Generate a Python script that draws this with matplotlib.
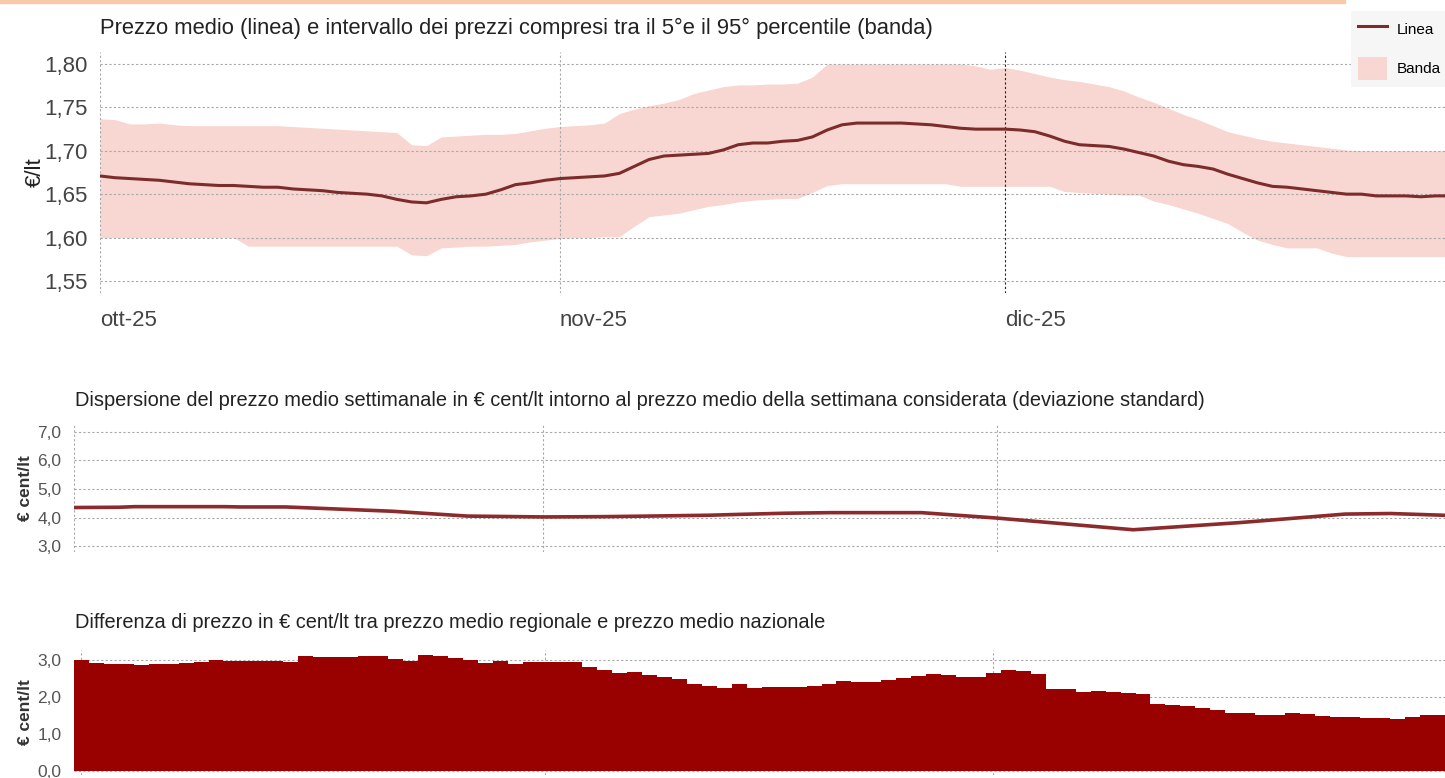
import matplotlib.pyplot as plt
import matplotlib.ticker as mticker
from matplotlib.patches import Rectangle, Patch
from matplotlib.lines import Line2D
import numpy as np
import pandas as pd

plt.rcParams['font.family'] = ['Liberation Sans', 'DejaVu Sans']

days = pd.date_range('2025-10-01', '2025-12-31', freq='D')
month_starts = pd.to_datetime(['2025-10-01', '2025-11-01', '2025-12-01'])
month_labels = ['ott-25', 'nov-25', 'dic-25']

# prezzo medio giornaliero (€/lt)
price_mean = [
    1.671, 1.669, 1.668, 1.667, 1.666, 1.664, 1.662, 1.661, 1.660, 1.660,
    1.659, 1.658, 1.658, 1.656, 1.655, 1.654, 1.652, 1.651, 1.650, 1.648,
    1.644, 1.641, 1.640, 1.644, 1.647, 1.648, 1.650, 1.655, 1.661, 1.663,
    1.666, 1.668, 1.669, 1.670, 1.671, 1.674, 1.682, 1.690, 1.694, 1.695,
    1.696, 1.697, 1.701, 1.707, 1.709, 1.709, 1.711, 1.712, 1.716, 1.724,
    1.730, 1.732, 1.732, 1.732, 1.732, 1.731, 1.730, 1.728, 1.726, 1.725,
    1.725, 1.725, 1.724, 1.722, 1.717, 1.711, 1.707, 1.706, 1.705, 1.702,
    1.698, 1.694, 1.688, 1.684, 1.682, 1.679, 1.673, 1.668, 1.663, 1.659,
    1.658, 1.656, 1.654, 1.652, 1.650, 1.650, 1.648, 1.648, 1.648, 1.647,
    1.648, 1.648,
]
# 95° percentile
price_p95 = [
    1.737, 1.736, 1.731, 1.731, 1.732, 1.730, 1.729, 1.729, 1.729, 1.729,
    1.729, 1.729, 1.729, 1.728, 1.727, 1.726, 1.725, 1.724, 1.723, 1.722,
    1.721, 1.707, 1.706, 1.716, 1.717, 1.718, 1.719, 1.719, 1.720, 1.723,
    1.726, 1.728, 1.729, 1.730, 1.732, 1.743, 1.748, 1.752, 1.755, 1.759,
    1.766, 1.770, 1.774, 1.776, 1.776, 1.777, 1.777, 1.778, 1.785, 1.800,
    1.800, 1.800, 1.800, 1.800, 1.800, 1.800, 1.800, 1.800, 1.800, 1.798,
    1.794, 1.796, 1.793, 1.789, 1.785, 1.782, 1.780, 1.777, 1.774, 1.769,
    1.762, 1.756, 1.749, 1.742, 1.736, 1.729, 1.722, 1.718, 1.714, 1.711,
    1.709, 1.707, 1.705, 1.703, 1.701, 1.700, 1.700, 1.700, 1.700, 1.700,
    1.700, 1.700,
]
# 5° percentile
price_p05 = [
    1.600, 1.600, 1.600, 1.600, 1.600, 1.600, 1.600, 1.600, 1.600, 1.600,
    1.590, 1.590, 1.590, 1.590, 1.590, 1.590, 1.590, 1.590, 1.590, 1.590,
    1.590, 1.580, 1.579, 1.588, 1.589, 1.590, 1.590, 1.591, 1.592, 1.595,
    1.597, 1.599, 1.600, 1.600, 1.601, 1.601, 1.613, 1.624, 1.626, 1.628,
    1.632, 1.636, 1.638, 1.641, 1.643, 1.644, 1.645, 1.645, 1.652, 1.660,
    1.662, 1.662, 1.662, 1.662, 1.662, 1.662, 1.662, 1.662, 1.659, 1.659,
    1.659, 1.659, 1.659, 1.659, 1.659, 1.653, 1.652, 1.651, 1.650, 1.649,
    1.649, 1.642, 1.638, 1.633, 1.628, 1.622, 1.616, 1.606, 1.597, 1.592,
    1.588, 1.588, 1.588, 1.582, 1.578, 1.578, 1.578, 1.578, 1.578, 1.578,
    1.578, 1.578,
]

# deviazione standard (€ cent/lt)
disp_dates = pd.to_datetime([
    '2025-10-01', '2025-10-04', '2025-10-05', '2025-10-11', '2025-10-12',
    '2025-10-15', '2025-10-22', '2025-10-27', '2025-11-01', '2025-11-05',
    '2025-11-08', '2025-11-12', '2025-11-14', '2025-11-17', '2025-11-20',
    '2025-11-26', '2025-12-01', '2025-12-10', '2025-12-17', '2025-12-24',
    '2025-12-27', '2025-12-31',
])
disp_values = [
    4.35, 4.36, 4.38, 4.38, 4.37, 4.37, 4.22, 4.05, 4.02, 4.03,
    4.05, 4.08, 4.11, 4.15, 4.17, 4.17, 3.98, 3.57, 3.82, 4.12,
    4.14, 4.07,
]

# differenza regionale - nazionale (€ cent/lt)
diff_values = [
    3.00, 2.91, 2.88, 2.88, 2.86, 2.88, 2.88, 2.93, 2.94, 3.00,
    2.97, 2.97, 2.97, 2.98, 2.96, 3.11, 3.07, 3.09, 3.09, 3.12,
    3.10, 3.02, 2.98, 3.13, 3.11, 3.06, 3.00, 2.93, 2.98, 2.89,
    2.94, 2.94, 2.94, 2.94, 2.80, 2.73, 2.64, 2.68, 2.59, 2.55,
    2.48, 2.35, 2.30, 2.25, 2.34, 2.25, 2.27, 2.27, 2.27, 2.30,
    2.35, 2.44, 2.42, 2.42, 2.45, 2.52, 2.56, 2.61, 2.59, 2.55,
    2.53, 2.64, 2.73, 2.70, 2.61, 2.23, 2.21, 2.15, 2.16, 2.15,
    2.12, 2.09, 1.82, 1.80, 1.77, 1.70, 1.65, 1.57, 1.56, 1.51,
    1.53, 1.56, 1.54, 1.50, 1.46, 1.45, 1.43, 1.43, 1.40, 1.45,
    1.53, 1.53,
]

line_col = '#7d2c2c'
band_col = '#f8d6d1'
bar_col = '#990000'
grid_kw = dict(color='#a8a8a8', linestyle=(0, (2, 2)), linewidth=0.8)


def comma(fmt):
    return mticker.FuncFormatter(lambda v, p: fmt.format(v).replace('.', ','))


fig = plt.figure(figsize=(14.45, 7.78), dpi=100)

# orange stripe on top
fig.patches.append(Rectangle((0, 0.996), 0.931, 0.004, transform=fig.transFigure,
                             color='#f7c9a8', zorder=0))

# --- top panel ---
ax1 = fig.add_axes([0.0692, 0.6234, 0.9308, 0.3098])
ax1.fill_between(days, price_p05, price_p95, color=band_col, linewidth=0)
ax1.plot(days, price_mean, color=line_col, linewidth=2.2)
ax1.set_ylim(1.536, 1.814)
ax1.set_yticks([1.55, 1.60, 1.65, 1.70, 1.75, 1.80])
ax1.yaxis.set_major_formatter(comma('{:.2f}'))
ax1.set_xlim(days[0], days[0] + pd.Timedelta(days=90.63))
ax1.set_xticks(month_starts)
ax1.set_xticklabels(month_labels, ha='left')
ax1.tick_params(axis='both', length=0, labelsize=16, labelcolor='#444444')
ax1.tick_params(axis='x', pad=12)
ax1.tick_params(axis='y', pad=9)
ax1.grid(True, **grid_kw)
ax1.get_xgridlines()[2].set_color('#222222')
ax1.set_ylabel('€/lt', fontsize=16, color='#222222', labelpad=-1)
for s in ax1.spines.values():
    s.set_visible(False)
fig.text(100 / 1445, 1 - 28 / 778,
         'Prezzo medio (linea) e intervallo dei prezzi compresi tra il 5°e il 95° percentile (banda)',
         fontsize=15.8, color='#222222', va='center', ha='left')

handles = [Line2D([0], [0], color=line_col, linewidth=2.2),
           Patch(facecolor=band_col, edgecolor='none')]
fig.legend(handles, ['Linea', 'Banda'], loc='upper right', bbox_to_anchor=(1.007, 0.996),
           frameon=True, facecolor='#f6f6f6', edgecolor='none', framealpha=1,
           fontsize=11, handlelength=1.9, handleheight=1.9, labelspacing=1.1,
           handletextpad=0.6, borderpad=0.45, fancybox=False)

# --- middle panel ---
ax2 = fig.add_axes([0.0512, 0.2905, 0.9488, 0.1645])
ax2.plot(disp_dates, disp_values, color='#8b2b2b', linewidth=2.6)
ax2.set_ylim(2.79, 7.28)
ax2.set_yticks([3, 4, 5, 6, 7])
ax2.yaxis.set_major_formatter(comma('{:.1f}'))
ax2.set_xlim(days[0], days[0] + pd.Timedelta(days=90.6))
ax2.set_xticks(month_starts)
ax2.set_xticklabels([])
ax2.tick_params(axis='both', length=0, labelsize=12.5, labelcolor='#555555')
ax2.tick_params(axis='y', pad=9)
ax2.grid(True, **grid_kw)
ax2.set_ylabel('€ cent/lt', fontsize=12.5, fontweight='bold', color='#333333', labelpad=3)
for s in ax2.spines.values():
    s.set_visible(False)
fig.text(75 / 1445, 1 - 400 / 778,
         'Dispersione del prezzo medio settimanale in € cent/lt intorno al prezzo medio '
         'della settimana considerata (deviazione standard)',
         fontsize=14.4, color='#222222', va='center', ha='left')

# --- bottom panel ---
ax3 = fig.add_axes([0.0512, 0.0039, 0.9488, 0.1606])
ax3.set_axisbelow(True)
ax3.bar(days, diff_values, width=1.0, color=bar_col, linewidth=0)
ax3.set_ylim(-0.1, 3.27)
ax3.set_yticks([0, 1, 2, 3])
ax3.yaxis.set_major_formatter(comma('{:.1f}'))
ax3.set_xlim(days[0] - pd.Timedelta(hours=12), days[0] + pd.Timedelta(days=91.2))
ax3.set_xticks(month_starts)
ax3.set_xticklabels([])
ax3.tick_params(axis='both', length=0, labelsize=12.5, labelcolor='#555555')
ax3.tick_params(axis='y', pad=9)
ax3.grid(True, **grid_kw)
ax3.set_ylabel('€ cent/lt', fontsize=12.5, fontweight='bold', color='#333333', labelpad=3)
for s in ax3.spines.values():
    s.set_visible(False)
fig.text(75 / 1445, 1 - 623 / 778,
         'Differenza di prezzo in € cent/lt tra prezzo medio regionale e prezzo medio nazionale',
         fontsize=14.4, color='#222222', va='center', ha='left')

fig.savefig('out.png', dpi=100)
